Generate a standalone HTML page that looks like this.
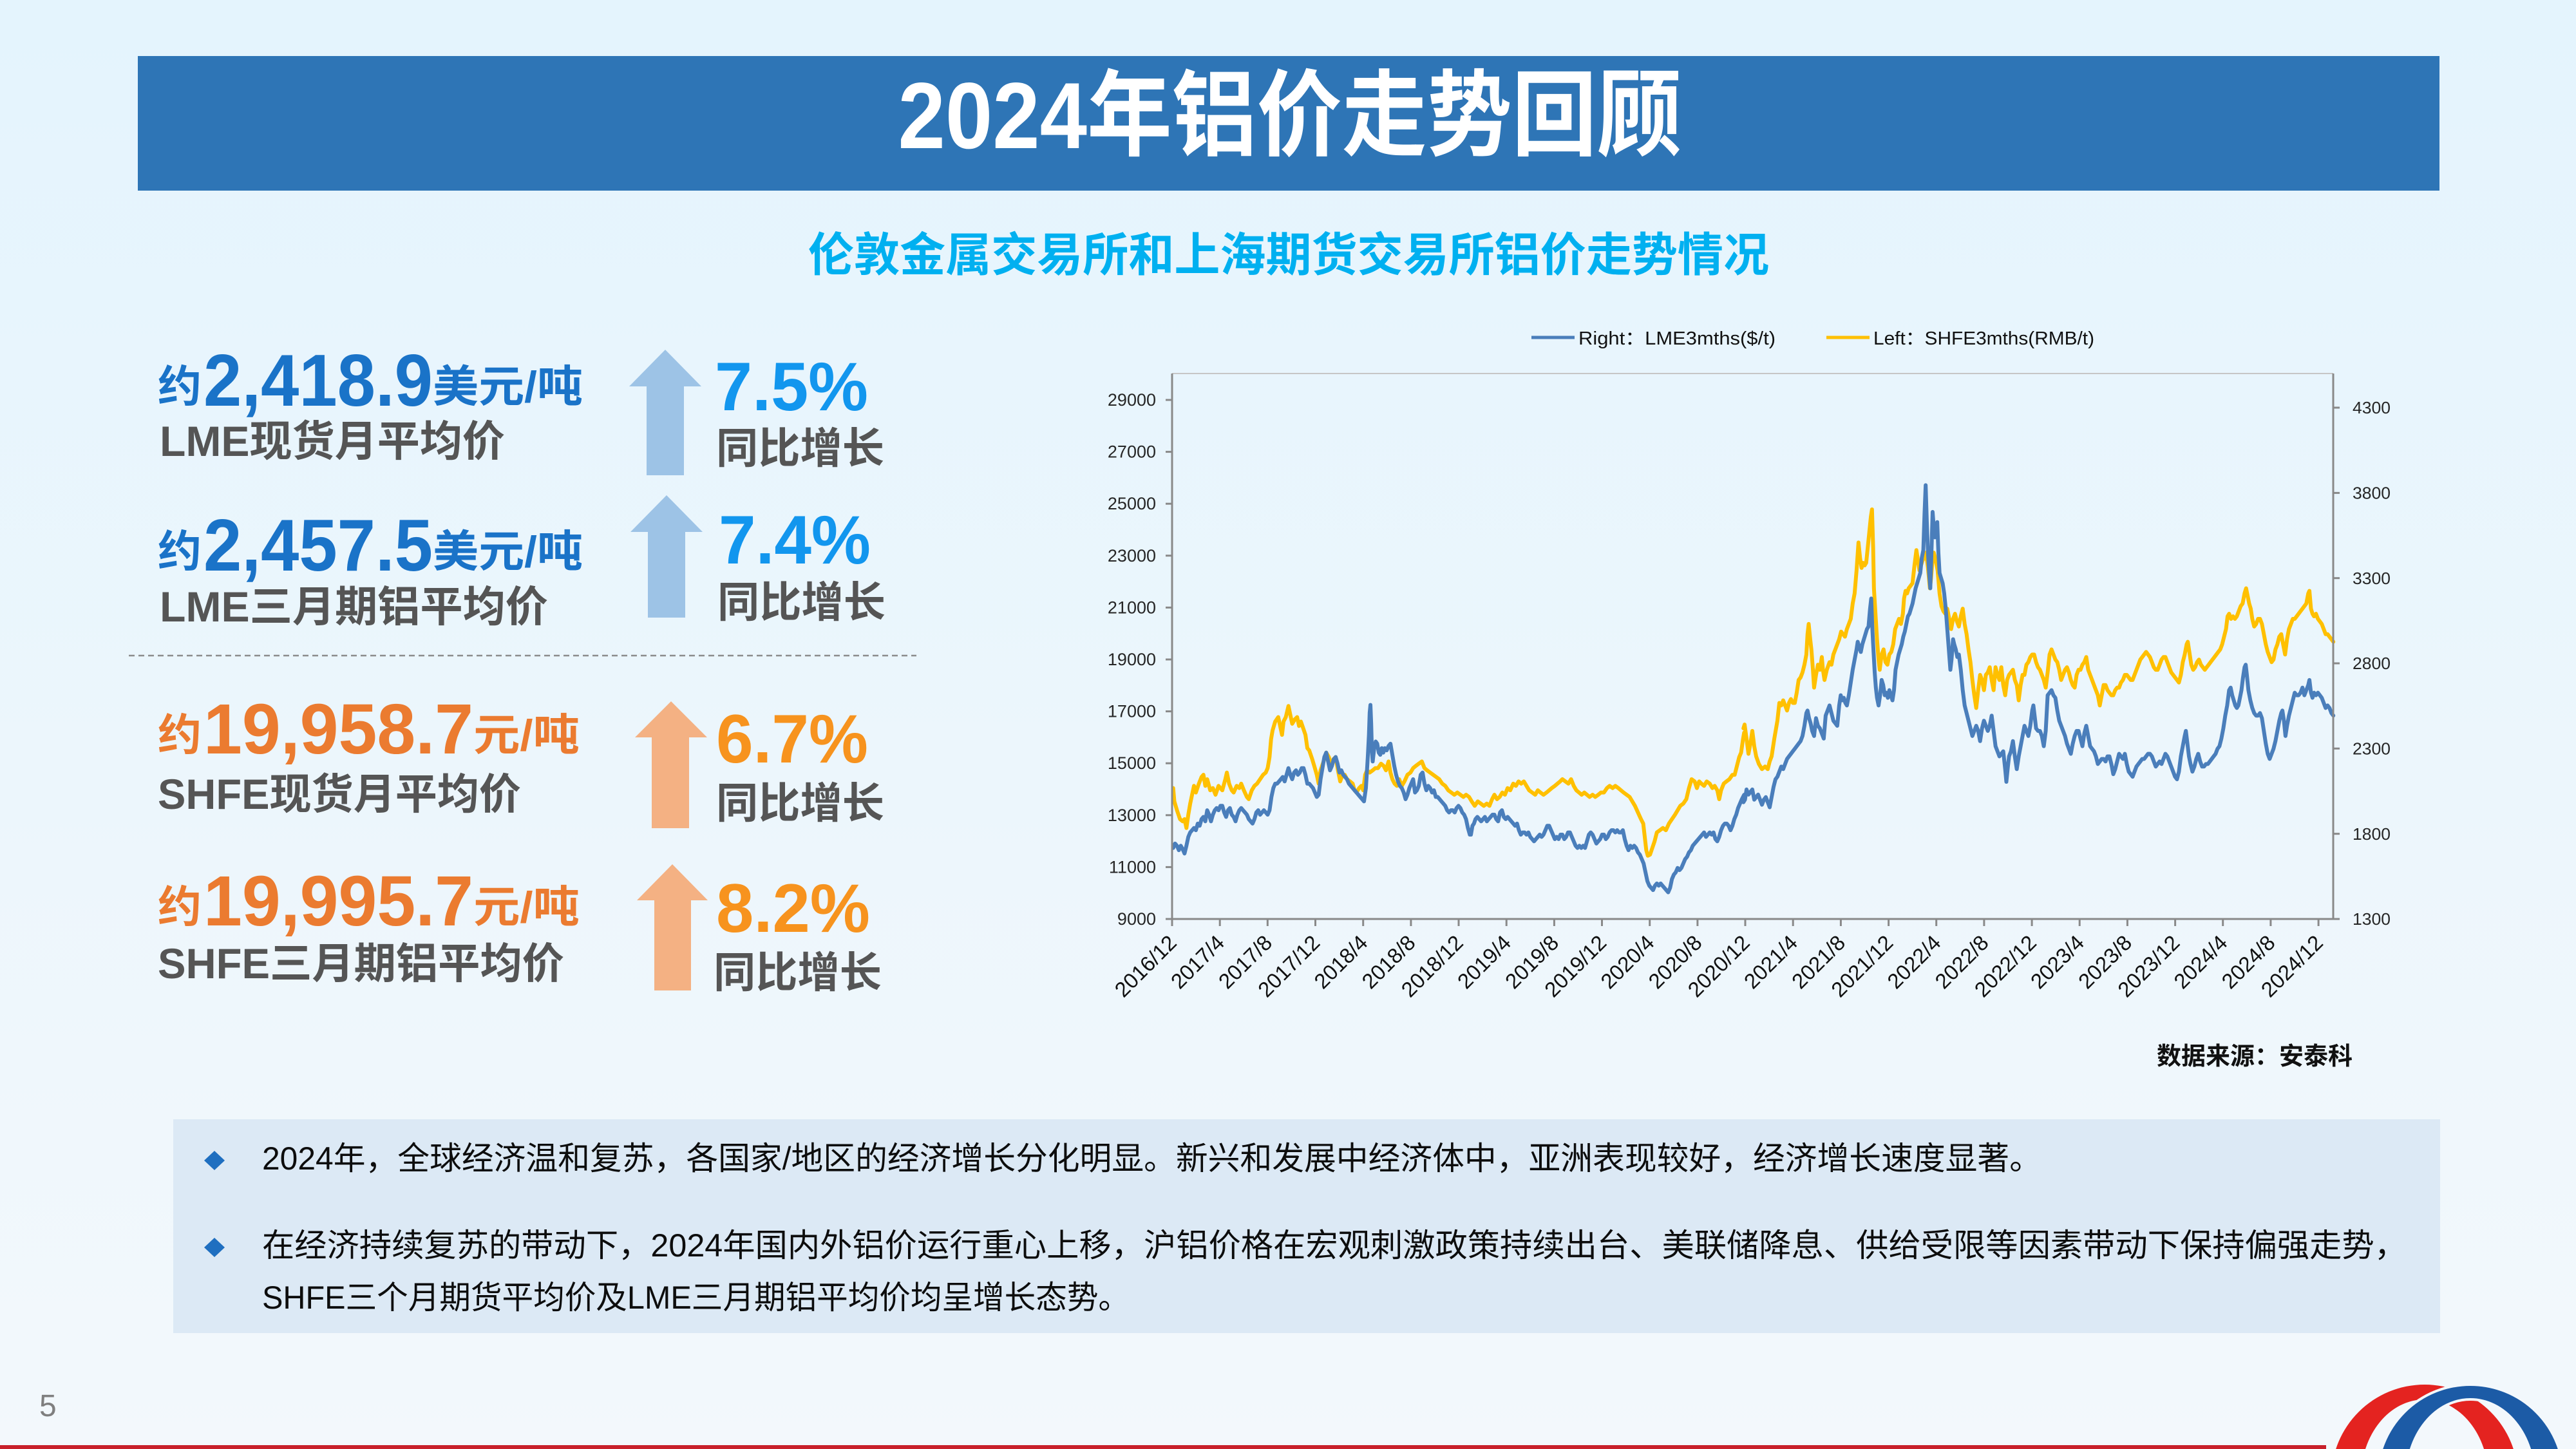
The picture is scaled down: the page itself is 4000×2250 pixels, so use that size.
<!DOCTYPE html>
<html>
<head>
<meta charset="utf-8">
<style>
html,body{margin:0;padding:0;width:4000px;height:2250px;overflow:hidden;background:#EAF6FD;}
svg{display:block}
text{font-family:"Liberation Sans","Noto Sans CJK SC",sans-serif;}
.b{font-weight:700}
.ax{font-family:"Liberation Sans",sans-serif;font-size:27px;fill:#262626}
.axr{font-family:"DejaVu Sans","Liberation Sans",sans-serif;font-size:26px;fill:#262626}
.xl{font-family:"Liberation Sans",sans-serif;font-size:33px;fill:#111}
.ln{fill:none;stroke-width:6;stroke-linejoin:round;stroke-linecap:round}
</style>
</head>
<body>
<svg width="4000" height="2250" viewBox="0 0 4000 2250" xmlns="http://www.w3.org/2000/svg">
<defs>
<linearGradient id="bg" x1="0" y1="0" x2="0" y2="1">
<stop offset="0" stop-color="#E4F4FD"/>
<stop offset="1" stop-color="#F3F8FC"/>
</linearGradient>
</defs>
<rect x="0" y="0" width="4000" height="2250" fill="url(#bg)"/>

<!-- Title bar -->
<rect x="214" y="87" width="3574" height="209" fill="#2E75B6"/>
<text x="2003" y="230" font-size="146" class="b" fill="#FFFFFF" text-anchor="middle" textLength="1217" lengthAdjust="spacingAndGlyphs">2024年铝价走势回顾</text>

<!-- Subtitle -->
<text x="2001" y="421" font-size="72" class="b" fill="#00B0F0" text-anchor="middle" textLength="1492" lengthAdjust="spacingAndGlyphs">伦敦金属交易所和上海期货交易所铝价走势情况</text>

<!-- Left panel row 1 -->
<text x="245" y="624" font-size="68" class="b" fill="#1A73C8">约</text>
<text x="316" y="630" font-size="114" class="b" fill="#1A73C8" textLength="356" lengthAdjust="spacingAndGlyphs">2,418.9</text>
<text x="672" y="624" font-size="68" class="b" fill="#1A73C8" textLength="233" lengthAdjust="spacingAndGlyphs">美元/吨</text>
<text x="248" y="708" font-size="66" class="b" fill="#555555" textLength="536" lengthAdjust="spacingAndGlyphs">LME现货月平均价</text>
<polygon points="1033,543 1089,600 1062,600 1062,738 1004,738 1004,600 977,600" fill="#9DC3E6"/>
<text x="1110" y="637" font-size="107" class="b" fill="#1296EE" textLength="238" lengthAdjust="spacingAndGlyphs">7.5%</text>
<text x="1112" y="719" font-size="66" class="b" fill="#555555" textLength="261" lengthAdjust="spacingAndGlyphs">同比增长</text>

<!-- row 2 -->
<text x="245" y="880" font-size="68" class="b" fill="#1A73C8">约</text>
<text x="316" y="886" font-size="114" class="b" fill="#1A73C8" textLength="356" lengthAdjust="spacingAndGlyphs">2,457.5</text>
<text x="672" y="880" font-size="68" class="b" fill="#1A73C8" textLength="233" lengthAdjust="spacingAndGlyphs">美元/吨</text>
<text x="248" y="965" font-size="66" class="b" fill="#555555" textLength="603" lengthAdjust="spacingAndGlyphs">LME三月期铝平均价</text>
<polygon points="1035,769 1091,826 1064,826 1064,959 1006,959 1006,826 979,826" fill="#9DC3E6"/>
<text x="1116" y="875" font-size="107" class="b" fill="#1296EE" textLength="236" lengthAdjust="spacingAndGlyphs">7.4%</text>
<text x="1114" y="958" font-size="66" class="b" fill="#555555" textLength="261" lengthAdjust="spacingAndGlyphs">同比增长</text>

<!-- dashed separator -->
<line x1="200" y1="1018" x2="1423" y2="1018" stroke="#8C8C8C" stroke-width="2.5" stroke-dasharray="9 6"/>

<!-- row 3 -->
<text x="245" y="1165" font-size="68" class="b" fill="#EB7B30">约</text>
<text x="316" y="1170" font-size="110" class="b" fill="#EB7B30" textLength="419" lengthAdjust="spacingAndGlyphs">19,958.7</text>
<text x="735" y="1165" font-size="68" class="b" fill="#EB7B30" textLength="165" lengthAdjust="spacingAndGlyphs">元/吨</text>
<text x="245" y="1256" font-size="66" class="b" fill="#555555" textLength="564" lengthAdjust="spacingAndGlyphs">SHFE现货月平均价</text>
<polygon points="1042,1089 1098,1145 1070,1145 1070,1286 1012,1286 1012,1145 986,1145" fill="#F4B183"/>
<text x="1112" y="1184" font-size="107" class="b" fill="#F7931E" textLength="236" lengthAdjust="spacingAndGlyphs">6.7%</text>
<text x="1112" y="1270" font-size="66" class="b" fill="#555555" textLength="261" lengthAdjust="spacingAndGlyphs">同比增长</text>

<!-- row 4 -->
<text x="245" y="1432" font-size="68" class="b" fill="#EB7B30">约</text>
<text x="316" y="1437" font-size="110" class="b" fill="#EB7B30" textLength="419" lengthAdjust="spacingAndGlyphs">19,995.7</text>
<text x="735" y="1432" font-size="68" class="b" fill="#EB7B30" textLength="165" lengthAdjust="spacingAndGlyphs">元/吨</text>
<text x="245" y="1519" font-size="66" class="b" fill="#555555" textLength="631" lengthAdjust="spacingAndGlyphs">SHFE三月期铝平均价</text>
<polygon points="1044,1342 1099,1398 1073,1398 1073,1538 1016,1538 1016,1398 989,1398" fill="#F4B183"/>
<text x="1112" y="1447" font-size="107" class="b" fill="#F7931E" textLength="239" lengthAdjust="spacingAndGlyphs">8.2%</text>
<text x="1108" y="1533" font-size="66" class="b" fill="#555555" textLength="261" lengthAdjust="spacingAndGlyphs">同比增长</text>

<!-- Chart legend -->
<line x1="2378" y1="524" x2="2445" y2="524" stroke="#4A7EBB" stroke-width="5"/>
<text x="2451" y="535" font-size="29" fill="#111" textLength="306" lengthAdjust="spacingAndGlyphs">Right：LME3mths($/t)</text>
<line x1="2836" y1="524" x2="2903" y2="524" stroke="#FFC000" stroke-width="5"/>
<text x="2909" y="535" font-size="29" fill="#111" textLength="343" lengthAdjust="spacingAndGlyphs">Left：SHFE3mths(RMB/t)</text>

<!-- plot frame -->
<line x1="1820" y1="580" x2="3623" y2="580" stroke="#C6C6C6" stroke-width="2"/>

<!-- series -->
<g transform="translate(1810 900) scale(0.58673 0.34439)">
<polyline class="ln" vector-effect="non-scaling-stroke" stroke="#FFC000" points="20,940 23,1000 30,1040 38,1080 45,1090 50,1080 55,1120 60,1060 65,1010 70,970 75,930 80,960 88,920 95,890 100,880 105,930 110,900 118,950 125,940 132,970 140,930 150,950 158,900 162,870 168,920 175,950 180,960 188,930 195,940 200,920 207,950 215,980 220,990 228,950 235,930 242,920 250,900 258,880 265,870 270,850 275,800 279,720 283,680 290,640 298,620 303,660 308,700 312,640 318,620 325,570 330,610 335,650 342,630 348,620 353,660 358,640 364,670 370,700 375,760 380,770 388,810 395,850 400,880 405,920 410,860 418,820 425,780 432,800 438,840 444,810 450,800 456,860 462,910 468,880 474,880 480,900 488,910 495,920 500,950 505,960 512,940 518,930 523,950 528,880 533,860 540,870 548,860 555,850 562,850 570,830 577,840 583,860 590,820 595,870 600,900 606,920 612,930 618,900 625,930 632,910 640,880 648,870 655,850 662,840 670,830 678,820 685,850 692,860 700,870 708,880 716,890 724,900 732,920 740,930 748,950 756,960 764,970 772,960 780,970 788,980 795,970 803,980 810,1000 818,1020 826,1000 834,1010 842,1020 850,1010 857,1020 864,990 870,970 877,990 884,980 891,960 898,970 905,940 912,950 920,920 927,930 934,910 941,920 948,910 955,930 962,950 970,960 978,970 985,950 992,960 1000,970 1008,960 1015,950 1022,940 1030,930 1037,920 1044,910 1050,900 1058,910 1066,920 1073,900 1080,930 1087,950 1094,960 1101,970 1108,960 1115,970 1122,980 1130,970 1137,980 1145,970 1152,960 1160,960 1168,940 1175,930 1183,940 1190,930 1198,940 1205,950 1212,960 1220,970 1228,980 1235,1000 1242,1020 1250,1050 1258,1080 1264,1100 1268,1160 1272,1220 1276,1245 1282,1240 1288,1210 1294,1180 1300,1140 1308,1130 1316,1120 1324,1130 1332,1100 1340,1080 1348,1060 1355,1040 1362,1020 1370,1010 1378,990 1385,940 1392,900 1400,910 1406,940 1412,910 1418,920 1425,930 1432,910 1440,920 1447,940 1453,930 1460,950 1465,990 1470,950 1477,920 1484,910 1492,900 1500,880 1506,880 1512,840 1518,800 1523,780 1528,720 1531,690"/>
<polyline class="ln" vector-effect="non-scaling-stroke" stroke="#4A7EBB" points="20,1210 25,1190 30,1200 35,1220 40,1200 45,1215 50,1235 55,1200 60,1160 65,1140 70,1130 75,1120 80,1130 85,1100 90,1110 95,1080 100,1070 105,1090 110,1040 115,1060 120,1090 125,1060 130,1040 135,1030 140,1040 145,1020 150,1020 155,1050 160,1070 165,1040 170,1030 175,1060 180,1070 185,1090 190,1060 195,1040 200,1030 205,1040 210,1050 215,1060 220,1080 225,1090 230,1100 235,1080 240,1050 245,1040 250,1060 255,1050 260,1040 265,1050 270,1060 275,1040 280,980 285,940 290,920 295,920 300,910 305,900 310,890 315,910 320,880 325,850 330,880 335,900 340,870 345,860 350,880 355,870 360,850 365,850 370,880 375,920 380,920 385,930 390,940 395,960 400,980 405,970 410,900 415,850 420,800 425,780 430,820 435,860 440,840 445,810 450,800 455,830 460,870 465,860 470,880 475,890 480,900 485,920 490,930 495,940 500,950 505,960 510,970 515,980 520,990 525,1000 530,940 535,800 538,700 540,600 542,565 544,650 546,780 548,820 552,760 556,730 560,740 564,780 568,790 572,760 576,780 580,760 585,770 590,750 595,740 600,790 605,840 610,880 615,910 620,930 625,940 630,960 635,990 640,970 645,940 650,920 655,900 660,960 665,950 670,930 675,880 680,870 685,920 690,950 695,930 700,940 705,960 710,950 715,980 720,980 725,990 730,1000 735,1010 740,1020 745,1040 750,1050 755,1040 760,1040 765,1050 770,1030 775,1020 780,1030 785,1050 790,1060 795,1080 800,1120 805,1150 808,1150 812,1110 816,1100 820,1080 825,1070 830,1080 835,1090 840,1080 845,1070 850,1090 855,1080 860,1070 865,1060 870,1060 875,1080 880,1090 885,1050 890,1040 895,1070 900,1080 905,1070 910,1080 915,1090 920,1100 925,1110 930,1100 935,1130 940,1150 945,1140 950,1140 955,1150 960,1140 965,1160 970,1170 975,1180 980,1170 985,1160 990,1150 995,1160 1000,1150 1005,1130 1010,1110 1015,1110 1020,1130 1025,1150 1030,1170 1035,1160 1040,1170 1045,1150 1050,1150 1055,1170 1060,1160 1065,1140 1070,1140 1075,1160 1080,1180 1085,1200 1090,1210 1095,1200 1100,1210 1105,1200 1110,1210 1115,1180 1120,1150 1125,1140 1130,1150 1135,1170 1140,1190 1145,1180 1150,1170 1155,1150 1160,1150 1165,1170 1170,1160 1175,1140 1180,1130 1185,1130 1190,1140 1195,1130 1200,1140 1205,1140 1210,1130 1215,1170 1220,1200 1225,1220 1230,1200 1235,1210 1240,1200 1245,1210 1250,1230 1255,1240 1260,1260 1265,1280 1270,1320 1275,1360 1280,1380 1285,1390 1290,1400 1295,1380 1300,1370 1305,1380 1310,1370 1315,1380 1320,1390 1325,1400 1330,1410 1335,1390 1340,1350 1345,1330 1350,1320 1355,1300 1360,1310 1365,1300 1370,1280 1375,1260 1380,1250 1385,1230 1390,1220 1395,1200 1400,1190 1405,1180 1410,1170 1415,1160 1420,1150 1425,1140 1430,1160 1435,1150 1440,1140 1445,1150 1450,1140 1455,1170 1460,1180 1465,1160 1470,1130 1475,1110 1480,1100 1485,1100 1490,1110 1495,1130 1500,1110 1505,1080 1510,1060 1515,1030 1520,1010 1525,990 1531,970"/>
</g>
<g transform="translate(2700 700) scale(0.59949 0.39541)">
<polyline class="ln" vector-effect="non-scaling-stroke" stroke="#FFC000" points="12,1090 15,1075 20,1130 25,1190 30,1150 35,1100 40,1160 45,1200 52,1230 60,1250 68,1240 75,1250 80,1220 85,1200 92,1130 100,1060 105,990 110,1000 115,980 120,1000 125,1020 130,990 135,975 140,990 145,990 150,950 155,900 160,890 165,870 170,840 175,800 178,720 181,680 185,740 188,780 192,860 195,930 200,880 205,840 210,860 215,810 218,860 222,900 228,860 235,830 240,840 245,800 250,780 255,760 260,740 265,710 270,720 275,730 280,700 285,680 290,660 295,600 300,560 305,470 310,360 314,420 318,460 322,440 326,450 330,440 334,380 338,320 342,260 345,230 348,380 350,540 354,640 358,740 362,820 365,860 370,800 375,780 380,830 385,840 390,800 395,790 400,760 405,700 410,680 415,660 420,680 425,640 428,580 432,550 436,560 440,540 445,530 450,520 455,450 460,390 464,430 468,470 472,450 476,430 480,420 485,400 490,460 495,540 498,500 502,420 505,400 510,430 515,470 520,560 525,610 530,630 535,640 540,620 545,660 550,700 555,660 560,640 565,670 570,690 575,650 580,620 585,680 590,720 595,780 600,830 605,900 610,960 615,1010 620,940 625,880 630,900 635,940 640,880 645,870 650,850 655,900 660,940 665,850 670,880 675,900 680,850 685,920 690,960 695,900 700,880 705,870 710,860 715,900 720,920 725,980 730,920 735,880 740,880 745,840 750,830 755,810 760,800 765,800 770,830 775,850 780,860 785,880 790,900 795,930 800,870 805,800 810,780 815,800 820,820 825,830 830,860 835,900 840,880 845,860 850,850 855,870 860,900 865,920 870,930 875,880 880,860 885,860 890,840 895,830 900,810 905,860 910,880 915,900 920,920 925,940 930,960 935,1000 940,960 945,920 950,920 955,940 960,950 965,960 970,960 975,940 980,930 985,930 990,910 995,900 1000,880 1005,880 1010,890 1015,900 1020,900 1025,880 1030,860 1035,840 1040,820 1045,810 1050,800 1055,790 1060,800 1065,810 1070,830 1075,850 1080,860 1085,860 1090,840 1095,820 1100,810 1105,810 1110,830 1115,850 1120,870 1125,880 1130,890 1135,900 1140,910 1145,880 1150,830 1155,800 1160,760 1163,750 1167,790 1172,840 1177,860 1182,850 1187,830 1192,820 1197,840 1202,850 1207,860 1212,850 1217,840 1222,830 1227,820 1232,810 1237,800 1242,790 1247,780 1252,760 1257,730 1262,700 1266,650 1270,640 1275,660 1280,650 1285,660 1290,650 1295,630 1300,610 1305,600 1310,560 1314,540 1318,570 1322,600 1326,620 1330,660 1335,690 1340,680 1345,660 1350,660 1355,680 1360,720 1365,760 1370,790 1375,810 1380,830 1385,820 1390,780 1395,760 1400,730 1405,720 1410,760 1415,800 1420,740 1425,700 1430,680 1435,660 1440,660 1445,650 1450,640 1455,630 1460,620 1465,610 1470,600 1475,560 1478,550 1482,620 1486,640 1490,650 1495,640 1500,660 1505,670 1510,680 1515,700 1520,720 1525,720 1530,730 1535,740 1540,750"/>
<polyline class="ln" vector-effect="non-scaling-stroke" stroke="#4A7EBB" points="12,1380 16,1370 20,1330 25,1350 30,1340 35,1330 40,1370 45,1360 50,1350 55,1370 60,1390 65,1370 70,1360 75,1380 80,1400 85,1360 90,1320 95,1290 100,1280 105,1260 110,1240 115,1250 120,1230 125,1210 130,1200 135,1190 140,1180 145,1170 150,1160 155,1150 160,1140 165,1120 170,1080 175,1030 178,1020 182,1050 186,1070 190,1100 195,1120 200,1050 205,1080 210,1090 215,1110 220,1130 225,1040 230,1020 235,1000 240,1030 245,1060 250,1070 255,1080 260,1000 264,960 268,980 272,970 276,990 280,1000 285,960 290,910 295,860 300,820 305,780 308,750 312,770 316,790 320,760 324,740 328,720 332,700 336,690 340,620 343,580 346,700 348,760 352,870 355,930 358,970 362,1000 366,960 370,900 374,920 378,960 382,950 386,970 390,940 394,960 398,980 402,940 406,860 410,830 414,800 418,780 422,760 426,730 430,710 434,680 438,650 442,640 446,620 450,600 454,570 458,540 462,520 466,500 470,480 474,420 478,390 481,250 484,135 487,280 490,400 493,480 496,540 499,400 502,240 505,300 508,340 511,300 514,280 517,400 520,480 524,500 528,520 532,560 536,620 540,700 544,780 548,860 551,820 555,740 558,760 562,780 566,810 570,800 575,860 580,940 585,1000 590,1030 595,1060 600,1090 605,1120 610,1100 615,1080 620,1100 625,1140 630,1090 635,1060 640,1080 645,1100 650,1080 655,1040 660,1100 665,1160 670,1180 675,1200 680,1190 685,1180 690,1250 693,1300 697,1240 700,1200 705,1180 710,1140 715,1200 720,1250 725,1200 730,1160 735,1120 740,1080 745,1100 750,1120 755,1080 760,1020 763,1000 767,1050 770,1090 775,1100 780,1100 785,1120 790,1160 795,1100 800,960 805,950 810,940 815,960 820,970 825,1020 830,1060 835,1080 840,1100 845,1120 850,1150 855,1170 860,1190 865,1150 870,1120 875,1100 880,1100 885,1130 890,1160 895,1110 900,1080 905,1120 910,1160 915,1170 920,1180 925,1200 930,1230 935,1220 940,1210 945,1210 950,1220 955,1200 960,1200 965,1230 970,1270 975,1250 980,1220 985,1190 990,1200 995,1210 1000,1190 1005,1230 1010,1260 1015,1270 1020,1280 1025,1260 1030,1240 1035,1230 1040,1220 1045,1210 1050,1210 1055,1200 1060,1190 1065,1190 1070,1200 1075,1220 1080,1240 1085,1230 1090,1220 1095,1230 1100,1210 1105,1190 1110,1200 1115,1220 1120,1240 1125,1260 1130,1280 1135,1290 1140,1260 1145,1200 1150,1160 1155,1120 1158,1100 1162,1150 1166,1200 1170,1230 1175,1260 1180,1240 1185,1210 1190,1190 1195,1220 1200,1240 1205,1240 1210,1230 1215,1230 1220,1220 1225,1210 1230,1200 1235,1190 1240,1170 1245,1160 1250,1130 1255,1090 1260,1040 1265,1000 1270,940 1274,930 1278,960 1282,980 1286,1000 1290,1010 1294,1000 1298,970 1302,940 1306,890 1310,850 1313,840 1316,880 1320,940 1325,980 1330,1010 1335,1030 1340,1040 1345,1040 1350,1030 1355,1050 1360,1100 1365,1150 1370,1190 1375,1210 1380,1190 1385,1170 1390,1140 1395,1100 1400,1060 1405,1030 1408,1020 1412,1060 1416,1120 1420,1080 1425,1040 1430,1010 1435,980 1440,950 1445,960 1450,960 1455,950 1460,930 1465,960 1470,940 1475,920 1478,900 1482,950 1486,970 1490,950 1495,960 1500,950 1505,960 1510,970 1515,990 1520,1010 1525,1000 1530,1010 1535,1030 1540,1040"/>
</g>

<!-- axes -->
<g stroke="#898989" stroke-width="3">
<line x1="1820" y1="580" x2="1820" y2="1428"/>
<line x1="3623" y1="580" x2="3623" y2="1428"/>
<line x1="1818" y1="1427" x2="3625" y2="1427"/>
<line x1="1810" y1="1427" x2="1820" y2="1427"/>
<line x1="1810" y1="1346.4" x2="1820" y2="1346.4"/>
<line x1="1810" y1="1265.8" x2="1820" y2="1265.8"/>
<line x1="1810" y1="1185.2" x2="1820" y2="1185.2"/>
<line x1="1810" y1="1104.6" x2="1820" y2="1104.6"/>
<line x1="1810" y1="1024" x2="1820" y2="1024"/>
<line x1="1810" y1="943.4" x2="1820" y2="943.4"/>
<line x1="1810" y1="862.8" x2="1820" y2="862.8"/>
<line x1="1810" y1="782.2" x2="1820" y2="782.2"/>
<line x1="1810" y1="701.6" x2="1820" y2="701.6"/>
<line x1="1810" y1="621" x2="1820" y2="621"/>
<line x1="3623" y1="1427" x2="3633" y2="1427"/>
<line x1="3623" y1="1294.7" x2="3633" y2="1294.7"/>
<line x1="3623" y1="1162.3" x2="3633" y2="1162.3"/>
<line x1="3623" y1="1030" x2="3633" y2="1030"/>
<line x1="3623" y1="897.7" x2="3633" y2="897.7"/>
<line x1="3623" y1="765.4" x2="3633" y2="765.4"/>
<line x1="3623" y1="633" x2="3633" y2="633"/>
<line x1="1820" y1="1427" x2="1820" y2="1438"/>
<line x1="1894.2" y1="1427" x2="1894.2" y2="1438"/>
<line x1="1968.3" y1="1427" x2="1968.3" y2="1438"/>
<line x1="2042.5" y1="1427" x2="2042.5" y2="1438"/>
<line x1="2116.7" y1="1427" x2="2116.7" y2="1438"/>
<line x1="2190.9" y1="1427" x2="2190.9" y2="1438"/>
<line x1="2265" y1="1427" x2="2265" y2="1438"/>
<line x1="2339.2" y1="1427" x2="2339.2" y2="1438"/>
<line x1="2413.4" y1="1427" x2="2413.4" y2="1438"/>
<line x1="2487.5" y1="1427" x2="2487.5" y2="1438"/>
<line x1="2561.7" y1="1427" x2="2561.7" y2="1438"/>
<line x1="2635.9" y1="1427" x2="2635.9" y2="1438"/>
<line x1="2710" y1="1427" x2="2710" y2="1438"/>
<line x1="2784.2" y1="1427" x2="2784.2" y2="1438"/>
<line x1="2858.4" y1="1427" x2="2858.4" y2="1438"/>
<line x1="2932.6" y1="1427" x2="2932.6" y2="1438"/>
<line x1="3006.7" y1="1427" x2="3006.7" y2="1438"/>
<line x1="3080.9" y1="1427" x2="3080.9" y2="1438"/>
<line x1="3155.1" y1="1427" x2="3155.1" y2="1438"/>
<line x1="3229.2" y1="1427" x2="3229.2" y2="1438"/>
<line x1="3303.4" y1="1427" x2="3303.4" y2="1438"/>
<line x1="3377.6" y1="1427" x2="3377.6" y2="1438"/>
<line x1="3451.7" y1="1427" x2="3451.7" y2="1438"/>
<line x1="3525.9" y1="1427" x2="3525.9" y2="1438"/>
<line x1="3600.1" y1="1427" x2="3600.1" y2="1438"/>
</g>

<!-- left axis labels -->
<g class="ax" text-anchor="end">
<text x="1795" y="1436">9000</text>
<text x="1795" y="1355.4">11000</text>
<text x="1795" y="1274.8">13000</text>
<text x="1795" y="1194.2">15000</text>
<text x="1795" y="1113.6">17000</text>
<text x="1795" y="1033">19000</text>
<text x="1795" y="952.4">21000</text>
<text x="1795" y="871.8">23000</text>
<text x="1795" y="791.2">25000</text>
<text x="1795" y="710.6">27000</text>
<text x="1795" y="630">29000</text>
</g>
<!-- right axis labels -->
<g class="axr">
<text x="3653" y="1436" textLength="59" lengthAdjust="spacingAndGlyphs">1300</text>
<text x="3653" y="1304" textLength="59" lengthAdjust="spacingAndGlyphs">1800</text>
<text x="3653" y="1171.5" textLength="59" lengthAdjust="spacingAndGlyphs">2300</text>
<text x="3653" y="1039" textLength="59" lengthAdjust="spacingAndGlyphs">2800</text>
<text x="3653" y="907" textLength="59" lengthAdjust="spacingAndGlyphs">3300</text>
<text x="3653" y="774.5" textLength="59" lengthAdjust="spacingAndGlyphs">3800</text>
<text x="3653" y="642" textLength="59" lengthAdjust="spacingAndGlyphs">4300</text>
</g>
<!-- x labels -->
<g class="xl" text-anchor="end">
<text x="1829" y="1466" transform="rotate(-45 1829 1466)">2016/12</text>
<text x="1903.2" y="1466" transform="rotate(-45 1903.2 1466)">2017/4</text>
<text x="1977.3" y="1466" transform="rotate(-45 1977.3 1466)">2017/8</text>
<text x="2051.5" y="1466" transform="rotate(-45 2051.5 1466)">2017/12</text>
<text x="2125.7" y="1466" transform="rotate(-45 2125.7 1466)">2018/4</text>
<text x="2199.9" y="1466" transform="rotate(-45 2199.9 1466)">2018/8</text>
<text x="2274" y="1466" transform="rotate(-45 2274 1466)">2018/12</text>
<text x="2348.2" y="1466" transform="rotate(-45 2348.2 1466)">2019/4</text>
<text x="2422.4" y="1466" transform="rotate(-45 2422.4 1466)">2019/8</text>
<text x="2496.5" y="1466" transform="rotate(-45 2496.5 1466)">2019/12</text>
<text x="2570.7" y="1466" transform="rotate(-45 2570.7 1466)">2020/4</text>
<text x="2644.9" y="1466" transform="rotate(-45 2644.9 1466)">2020/8</text>
<text x="2719" y="1466" transform="rotate(-45 2719 1466)">2020/12</text>
<text x="2793.2" y="1466" transform="rotate(-45 2793.2 1466)">2021/4</text>
<text x="2867.4" y="1466" transform="rotate(-45 2867.4 1466)">2021/8</text>
<text x="2941.6" y="1466" transform="rotate(-45 2941.6 1466)">2021/12</text>
<text x="3015.7" y="1466" transform="rotate(-45 3015.7 1466)">2022/4</text>
<text x="3089.9" y="1466" transform="rotate(-45 3089.9 1466)">2022/8</text>
<text x="3164.1" y="1466" transform="rotate(-45 3164.1 1466)">2022/12</text>
<text x="3238.2" y="1466" transform="rotate(-45 3238.2 1466)">2023/4</text>
<text x="3312.4" y="1466" transform="rotate(-45 3312.4 1466)">2023/8</text>
<text x="3386.6" y="1466" transform="rotate(-45 3386.6 1466)">2023/12</text>
<text x="3460.7" y="1466" transform="rotate(-45 3460.7 1466)">2024/4</text>
<text x="3534.9" y="1466" transform="rotate(-45 3534.9 1466)">2024/8</text>
<text x="3609.1" y="1466" transform="rotate(-45 3609.1 1466)">2024/12</text>
</g>

<!-- source -->
<text x="3349" y="1653" font-size="38" class="b" fill="#111" textLength="304" lengthAdjust="spacingAndGlyphs">数据来源：安泰科</text>

<!-- Bottom box -->
<rect x="269" y="1738" width="3520" height="332" fill="#DCE9F5"/>
<polygon points="333,1787 349,1802 333,1817 317,1802" fill="#1F6FC0"/>
<polygon points="333,1922 349,1937 333,1952 317,1937" fill="#1F6FC0"/>
<text x="407" y="1816" font-size="50" fill="#0D0D0D" textLength="2763" lengthAdjust="spacingAndGlyphs">2024年，全球经济温和复苏，各国家/地区的经济增长分化明显。新兴和发展中经济体中，亚洲表现较好，经济增长速度显著。</text>
<text x="407" y="1951" font-size="50" fill="#0D0D0D" textLength="3330" lengthAdjust="spacingAndGlyphs">在经济持续复苏的带动下，2024年国内外铝价运行重心上移，沪铝价格在宏观刺激政策持续出台、美联储降息、供给受限等因素带动下保持偏强走势，</text>
<text x="407" y="2032" font-size="50" fill="#0D0D0D" textLength="1347" lengthAdjust="spacingAndGlyphs">SHFE三个月期货平均价及LME三月期铝平均价均呈增长态势。</text>

<!-- page number -->
<text x="61" y="2199" font-size="48" fill="#7F7F7F">5</text>

<!-- bottom red line -->
<rect x="0" y="2244" width="3612" height="6" fill="#C8202B"/>

<!-- logo arcs -->
<path d="M 3620,2295 A 145,145 0 0 1 3910,2295 L 3864,2295 A 99,122 0 0 0 3666,2295 Z" fill="#E42320" fill-rule="evenodd"/>
<path d="M 3691,2295 A 145,145 0 0 1 3981,2295 L 3935,2295 A 99,122 0 0 0 3737,2295 Z" fill="#1C5BA6" stroke="#F3F8FC" stroke-width="4" fill-rule="evenodd"/>
</svg>
</body>
</html>
